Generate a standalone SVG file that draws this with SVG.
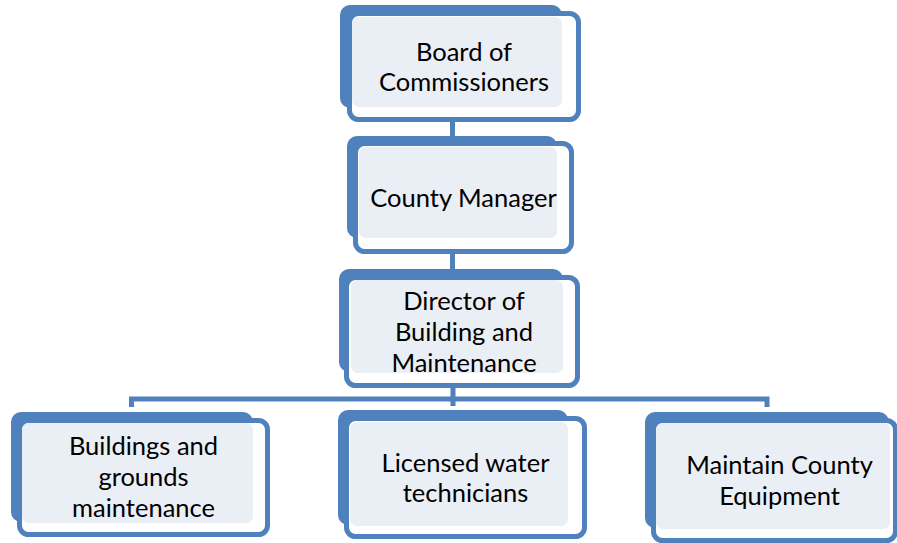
<svg xmlns="http://www.w3.org/2000/svg" width="897" height="543" viewBox="0 0 897 543">
<style>
.back{fill:#4F81BD}
.frame{fill:#FFFFFF;stroke:#4F81BD;stroke-width:5}
.face{fill:#EAEEF5}
.conn{fill:none;stroke:#4F81BD;stroke-width:5}
text{font-family:Lato,"Open Sans",sans-serif;font-size:25.5px;fill:#000;text-anchor:middle}
</style>
<rect width="897" height="543" fill="#FFFFFF"/>
<g id="connectors">
<line class="conn" x1="452.5" y1="115" x2="452.5" y2="140"/>
<line class="conn" x1="452.5" y1="250" x2="452.5" y2="273"/>
<polyline class="conn" points="131.5,407 131.5,399 767,399 767,407"/>
<line class="conn" x1="453" y1="385" x2="453" y2="406"/>
</g>
<g id="board">
<rect class="back" x="340" y="5" width="222" height="103" rx="10"/>
<rect class="frame" x="349.5" y="13.5" width="229" height="106" rx="9"/>
<rect class="face" x="352" y="17" width="210" height="90" rx="7"/>
<text x="464" y="61">Board of</text>
<text x="464" y="91">Commissioners</text>
</g>
<g id="manager">
<rect class="back" x="347" y="136" width="210" height="102" rx="10"/>
<rect class="frame" x="355.5" y="143.5" width="216" height="108" rx="9"/>
<rect class="face" x="359" y="147" width="198" height="91" rx="7"/>
<text x="463.5" y="207">County Manager</text>
</g>
<g id="director">
<rect class="back" x="339" y="269" width="224" height="103" rx="10"/>
<rect class="frame" x="346.5" y="277.5" width="231" height="108" rx="9"/>
<rect class="face" x="351" y="280" width="212" height="93" rx="7"/>
<text x="464" y="310">Director of</text>
<text x="464" y="341">Building and</text>
<text x="464" y="372">Maintenance</text>
</g>
<g id="buildings">
<rect class="back" x="11" y="412" width="242" height="110" rx="10"/>
<rect class="frame" x="19.5" y="420.5" width="248" height="114" rx="9"/>
<rect class="face" x="22" y="423" width="231" height="100" rx="7"/>
<text x="143.5" y="455">Buildings and</text>
<text x="143.5" y="486">grounds</text>
<text x="143.5" y="517">maintenance</text>
</g>
<g id="licensed">
<rect class="back" x="338" y="410" width="230" height="115" rx="10"/>
<rect class="frame" x="346.5" y="418.5" width="238" height="118" rx="9"/>
<rect class="face" x="350" y="422" width="218" height="104" rx="7"/>
<text x="465.5" y="472">Licensed water</text>
<text x="465.5" y="502">technicians</text>
</g>
<g id="maintain">
<rect class="back" x="645" y="412" width="244" height="116" rx="10"/>
<rect class="frame" x="653.5" y="420.5" width="242" height="120" rx="9"/>
<rect class="face" x="656" y="423" width="234" height="106" rx="7"/>
<text x="779.5" y="474">Maintain County</text>
<text x="779.5" y="505">Equipment</text>
</g>
</svg>
